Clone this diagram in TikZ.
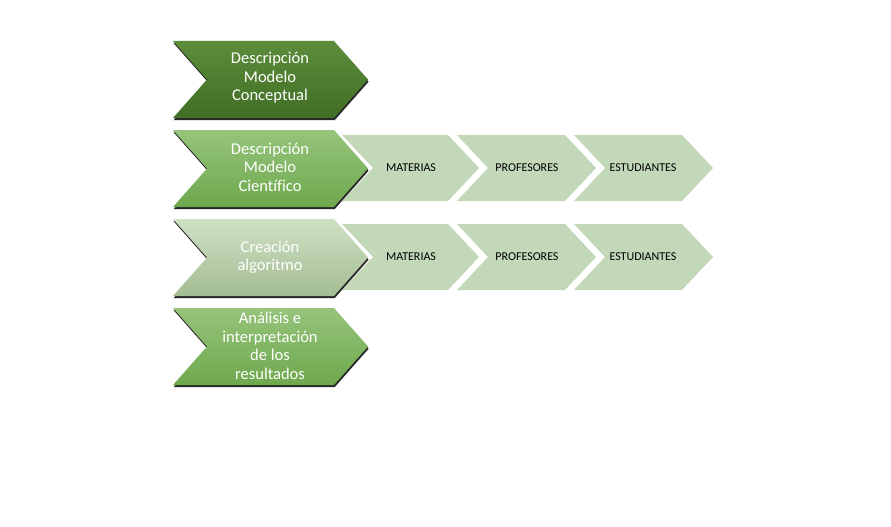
\documentclass[tikz,border=0pt]{standalone}
\usepackage{fontspec}
\setmainfont{Carlito}[Ligatures=NoCommon]
\usetikzlibrary{shadows}
\definecolor{smallgreen}{HTML}{C3D8B9}
\definecolor{darktop}{HTML}{5C8D3B}
\definecolor{darkbot}{HTML}{416E25}
\definecolor{midtop}{HTML}{96C47B}
\definecolor{midbot}{HTML}{6EA84D}
\definecolor{lighttop}{HTML}{CFE0C4}
\definecolor{lightbot}{HTML}{A3BD93}
\newcommand\mychev[6]{% style, xleft, ytop, xcorner, ybottom, depth
  \path[#1] (#2,#3) -- (#4,#3) -- ({#4+#6},{(#3+#5)/2}) -- (#4,#5) -- (#2,#5) -- ({#2+#6},{(#3+#5)/2}) -- cycle;}
\tikzset{
  bigchev/.style={drop shadow={shadow xshift=0.6pt,shadow yshift=-2.2pt,fill=black,opacity=0.85}},
  chevdark/.style={bigchev,top color=darktop,bottom color=darkbot},
  chevmid/.style={bigchev,top color=midtop,bottom color=midbot},
  chevlight/.style={bigchev,top color=lighttop,bottom color=lightbot},
  smallchev/.style={fill=smallgreen},
  bigtext/.style={text=white,font=\fontsize{16.5}{18.5}\selectfont,align=center,inner sep=0pt},
  smalltext/.style={text=black,font=\fontsize{12}{13}\selectfont,inner sep=0pt},
}
\begin{document}
\begin{tikzpicture}[x=1pt,y=-1pt]
\useasboundingbox[fill=white] (0,0) rectangle (891,527);
% small chevrons, row 2
\mychev{smallchev}{342}{135}{448}{201}{31}
\mychev{smallchev}{457}{135}{565}{201}{31}
\mychev{smallchev}{574}{135}{682}{201}{31}
% small chevrons, row 3
\mychev{smallchev}{342}{224}{448}{290}{31}
\mychev{smallchev}{457}{224}{565}{290}{31}
\mychev{smallchev}{574}{224}{682}{290}{31}
% big chevrons
\mychev{chevdark}{173}{41}{334}{118}{34}
\mychev{chevmid}{173}{130}{334}{207}{34}
\mychev{chevlight}{173}{219}{334}{296}{34}
\mychev{chevmid}{173}{308}{334}{385}{34}
% texts
\node[bigtext] (t1) at (270,78) {Descripción\\Modelo\\Conceptual};
\node[bigtext] (t2) at (270,167) {Descripción\\Modelo\\Científico};
\node[bigtext] (t3) at (270,257) {Creación\\algoritmo};
\node[bigtext] (t4) at (270,346) {Análisis e\\interpretación\\de los\\resultados};
\node[smalltext] (m2) at (411,168) {MATERIAS};
\node[smalltext] (p2) at (527,168) {PROFESORES};
\node[smalltext] (e2) at (643,168) {ESTUDIANTES};
\node[smalltext] (m3) at (411,257) {MATERIAS};
\node[smalltext] (p3) at (527,257) {PROFESORES};
\node[smalltext] (e3) at (643,257) {ESTUDIANTES};
\end{tikzpicture}
\end{document}
